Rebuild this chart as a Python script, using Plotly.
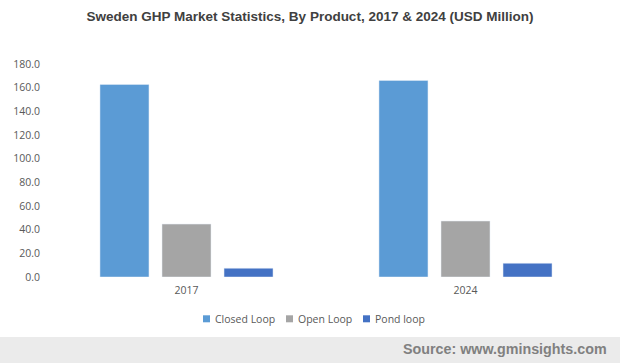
import plotly.graph_objects as go

years = ["2017", "2024"]
closed_loop = [162.7, 166.1]
open_loop = [44.7, 47.3]
pond_loop = [7.4, 11.6]
y_ticks = [0, 20, 40, 60, 80, 100, 120, 140, 160, 180]

series_names = ["Closed Loop", "Open Loop", "Pond loop"]
series_colors = ["#5B9BD5", "#A5A5A5", "#4472C4"]
series_values = [closed_loop, open_loop, pond_loop]

fig = go.Figure()
for name, color, vals in zip(series_names, series_colors, series_values):
    fig.add_trace(go.Bar(name=name, x=years, y=vals, marker_color=color, showlegend=False))

W, H = 620, 363
ML, MR, MT, MB = 47, 15, 64, 86
PW, PH = W - ML - MR, H - MT - MB

def px_x(px):
    return (px - ML) / PW

def px_y(py):
    return (H - MB - py) / PH

fig.update_layout(
    width=W, height=H,
    margin=dict(l=ML, r=MR, t=MT, b=MB, autoexpand=False),
    paper_bgcolor="white", plot_bgcolor="white",
    barmode="group", bargap=0.333, bargroupgap=0.21,
    font=dict(family="Open Sans, Liberation Sans, sans-serif", size=11, color="#595959"),
    title=dict(text="<b>Sweden GHP Market Statistics, By Product, 2017 & 2024 (USD Million)</b>",
               x=0.5, xanchor="center", y=0.955, yanchor="middle",
               font=dict(family="Liberation Sans, Arial, sans-serif", size=13.5, color="#404040")),
    showlegend=False,
    xaxis=dict(showgrid=False, showline=False, ticks="", tickfont=dict(size=10.5),
               ticklabelstandoff=5, automargin=False),
    yaxis=dict(range=[0, 180], tickvals=y_ticks, tickformat=".1f", showgrid=False,
               zeroline=False, showline=False, ticks="", ticklabelstandoff=6,
               tickfont=dict(size=10.5), automargin=False),
)

# legend (custom, Excel-style)
legend_sq_x = [203, 286, 363]
for name, color, sx in zip(series_names, series_colors, legend_sq_x):
    fig.add_shape(type="rect", xref="paper", yref="paper",
                  x0=px_x(sx), x1=px_x(sx + 7), y0=px_y(322.3), y1=px_y(315.3),
                  fillcolor=color, line_width=0)
    fig.add_annotation(text=name, xref="paper", yref="paper", x=px_x(sx + 9.5), y=px_y(318.8),
                       xanchor="left", yanchor="middle", showarrow=False,
                       font=dict(size=10.5, color="#595959"))

fig.add_shape(type="rect", xref="paper", yref="paper", x0=-0.2, x1=1.1, y0=px_y(364), y1=px_y(337),
              fillcolor="#EBEBEB", line_width=0, layer="below")
fig.add_annotation(text="<b>Source: www.gminsights.com</b>", xref="paper", yref="paper",
                   x=px_x(609), y=px_y(349), xanchor="right", yanchor="middle", showarrow=False,
                   font=dict(family="Liberation Sans, Arial, sans-serif", size=14.3, color="#808080"))

fig.write_html("out.html", config={"displayModeBar": False},
               post_script="document.body.style.margin='0';document.body.style.overflow='hidden';")
